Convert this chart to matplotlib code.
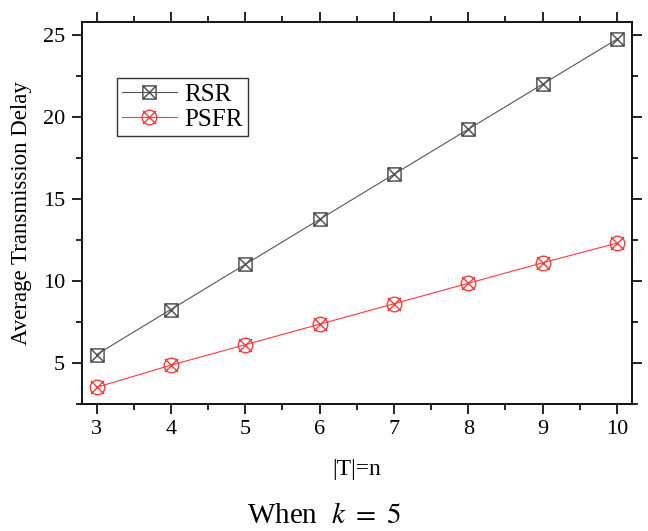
import matplotlib
matplotlib.use("Agg")
import matplotlib.pyplot as plt
import numpy as np
from matplotlib.path import Path
from matplotlib.ticker import MultipleLocator

n_values = [3, 4, 5, 6, 7, 8, 9, 10]
rsr = [5.5, 8.25, 11.0, 13.75, 16.5, 19.25, 22.0, 24.75]
psfr = [3.5, 4.85, 6.1, 7.35, 8.6, 9.85, 11.1, 12.3]
series_labels = ["RSR", "PSFR"]
x_label = "|T|=n"
y_label = "Average Transmission Delay"
caption = "When  $k\\ =\\ 5$"

plt.rcParams['font.family'] = ['Liberation Serif', 'DejaVu Serif']
plt.rcParams['mathtext.fontset'] = 'stix'

# custom markers: square with X, circle with X
sq = Path([(-1, -1), (1, -1), (1, 1), (-1, 1), (-1, -1),
           (-1, -1), (1, 1), (-1, 1), (1, -1)],
          [Path.MOVETO, Path.LINETO, Path.LINETO, Path.LINETO, Path.CLOSEPOLY,
           Path.MOVETO, Path.LINETO, Path.MOVETO, Path.LINETO])
circ = Path.unit_circle()
xl = Path([(-0.9, -0.9), (0.9, 0.9), (-0.9, 0.9), (0.9, -0.9)],
          [Path.MOVETO, Path.LINETO, Path.MOVETO, Path.LINETO])
circx = Path.make_compound_path(circ, xl)

fig = plt.figure(figsize=(6.48, 5.31), dpi=100)
ax = fig.add_axes([0.126, 0.2397, 0.849, 0.719])

ax.plot(n_values, rsr, color='#555555', lw=0.8, marker=sq, markersize=9.5,
        markerfacecolor='none', markeredgecolor='#555555', markeredgewidth=1.1,
        label=series_labels[0])
ax.plot(n_values, psfr, color='#ff3b3b', lw=0.8, marker=circx, markersize=10.5,
        markerfacecolor='none', markeredgecolor='#ff3b3b', markeredgewidth=1.0,
        label=series_labels[1])

ax.set_xlim(2.8, 10.2)
ax.set_ylim(2.5, 25.8)
ax.xaxis.set_major_locator(MultipleLocator(1))
ax.xaxis.set_minor_locator(MultipleLocator(0.5))
ax.yaxis.set_major_locator(MultipleLocator(5))
ax.yaxis.set_minor_locator(MultipleLocator(2.5))

for s in ax.spines.values():
    s.set_linewidth(1.3)
ax.tick_params(which='both', direction='out', top=True, right=True,
               labeltop=False, labelright=False, width=1.2)
ax.tick_params(which='major', length=7, labelsize=16, pad=5)
ax.tick_params(which='minor', length=4)

ax.set_xlabel(x_label, fontsize=17, labelpad=14)
ax.set_ylabel(y_label, fontsize=16.5, labelpad=8)

leg = ax.legend(loc='upper left', bbox_to_anchor=(0.064, 0.853), fontsize=18,
                frameon=True, fancybox=False, edgecolor='black',
                handlelength=2.2, borderpad=0.2, labelspacing=0.1,
                handletextpad=0.3, borderaxespad=0)
leg.get_frame().set_linewidth(1.0)

fig.text(0.5, 0.028, caption, ha='center', va='center', fontsize=21)

fig.savefig("out.png", dpi=100)
